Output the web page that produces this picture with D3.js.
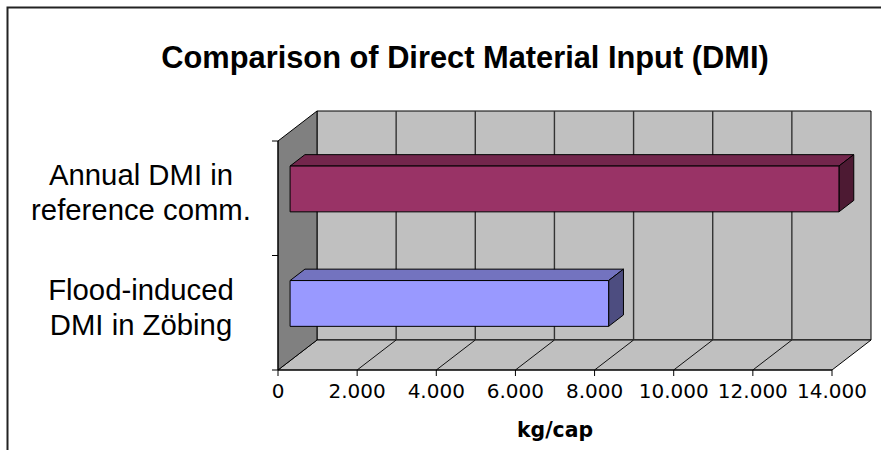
<!DOCTYPE html>
<html>
<head>
<meta charset="utf-8">
<script src="https://cdn.jsdelivr.net/npm/d3@7"></script>
<style>
  body { margin: 0; background: #fff; }
  svg { display: block; }
</style>
</head>
<body>
<script>
// chart data
const categories = [
  ['Annual DMI in', 'reference comm.'],
  ['Flood-induced', 'DMI in Zöbing']
]
const values = [13870, 8050]
const barColors = ['#993366', '#9999ff']
const xTicks = [0, 2000, 4000, 6000, 8000, 10000, 12000, 14000]
const title = 'Comparison of Direct Material Input (DMI)'
const xLabel = 'kg/cap'

const width = 881
const height = 450
const front = { left: 278, right: 832, top: 141, bottom: 370 }
const depth = { dx: 39, dy: -30 }
const barDepth = [0.31, 0.69]

const svg = d3.select('body').append('svg')
  .attr('width', width)
  .attr('height', height)

// outer frame (only left + top are visible)
svg.append('path')
  .attr('d', `M7.5,${height} V7.5 H${width}`)
  .attr('fill', 'none')
  .attr('stroke', '#222')
  .attr('stroke-width', 2)

svg.append('text')
  .attr('x', 465)
  .attr('y', 68)
  .attr('text-anchor', 'middle')
  .style('font-family', '"Liberation Sans", Arial, sans-serif')
  .style('font-weight', 'bold')
  .style('font-size', '30.8px')
  .text(title)

const x = d3.scaleLinear()
  .domain([0, d3.max(xTicks)])
  .range([front.left, front.right])

const y = d3.scaleBand()
  .domain(d3.range(categories.length))
  .range([front.top, front.bottom])

// project a point of the front plane back by fraction d of the depth
const proj = (px, py, d) => [px + depth.dx * d, py + depth.dy * d]
const poly = pts => 'M' + pts.map(p => p.join(',')).join('L') + 'Z'

const x0 = x(0)
const xMax = x(d3.max(xTicks))
const g = svg.append('g')

// back wall
g.append('path')
  .attr('d', poly([proj(x0, front.top, 1), proj(xMax, front.top, 1), proj(xMax, front.bottom, 1), proj(x0, front.bottom, 1)]))
  .attr('fill', '#c0c0c0')
  .attr('stroke', '#000')

// floor
g.append('path')
  .attr('d', poly([proj(x0, front.bottom, 0), proj(x0, front.bottom, 1), proj(xMax, front.bottom, 1), proj(xMax, front.bottom, 0)]))
  .attr('fill', '#c0c0c0')
  .attr('stroke', '#000')

// side wall
g.append('path')
  .attr('d', poly([proj(x0, front.top, 0), proj(x0, front.top, 1), proj(x0, front.bottom, 1), proj(x0, front.bottom, 0)]))
  .attr('fill', '#808080')
  .attr('stroke', '#000')

// gridlines on back wall and floor
const inner = xTicks.filter(t => t > 0 && t < d3.max(xTicks))
g.selectAll('.grid-back').data(inner)
  .enter().append('line')
  .attr('class', 'grid-back')
  .attr('x1', d => proj(x(d), front.top, 1)[0])
  .attr('y1', d => proj(x(d), front.top, 1)[1])
  .attr('x2', d => proj(x(d), front.bottom, 1)[0])
  .attr('y2', d => proj(x(d), front.bottom, 1)[1])
  .attr('stroke', '#333')
  .attr('stroke-width', 1.4)
g.selectAll('.grid-floor').data(inner)
  .enter().append('line')
  .attr('class', 'grid-floor')
  .attr('x1', d => proj(x(d), front.bottom, 1)[0])
  .attr('y1', d => proj(x(d), front.bottom, 1)[1])
  .attr('x2', d => x(d))
  .attr('y2', front.bottom)
  .attr('stroke', '#111')
  .attr('stroke-width', 1)

// axis lines
g.append('line')
  .attr('x1', x0).attr('x2', xMax)
  .attr('y1', front.bottom).attr('y2', front.bottom)
  .attr('stroke', '#000')
g.append('line')
  .attr('x1', x0).attr('x2', x0)
  .attr('y1', front.top).attr('y2', front.bottom)
  .attr('stroke', '#000')

// y ticks at band edges
const yEdges = y.domain().map(i => y(i)).concat([front.bottom])
g.selectAll('.ytick').data(yEdges)
  .enter().append('line')
  .attr('x1', x0 - 6).attr('x2', x0)
  .attr('y1', d => d).attr('y2', d => d)
  .attr('stroke', '#000')

// x ticks + labels
const fmt = d3.formatLocale({ decimal: ',', thousands: '.', grouping: [3], currency: ['', ''] }).format(',')
g.selectAll('.xtick').data(xTicks)
  .enter().append('line')
  .attr('x1', d => x(d)).attr('x2', d => x(d))
  .attr('y1', front.bottom).attr('y2', front.bottom + 6)
  .attr('stroke', '#000')
g.selectAll('.xlabel').data(xTicks)
  .enter().append('text')
  .attr('x', d => x(d))
  .attr('y', 398)
  .attr('text-anchor', 'middle')
  .style('font-family', '"DejaVu Sans", Verdana, sans-serif')
  .style('font-size', '20px')
  .text(d => fmt(d))

svg.append('text')
  .attr('x', (x0 + xMax) / 2)
  .attr('y', 437)
  .attr('text-anchor', 'middle')
  .style('font-family', '"DejaVu Sans", Verdana, sans-serif')
  .style('font-weight', 'bold')
  .style('font-size', '20.4px')
  .text(xLabel)

// category labels
categories.forEach((lines, i) => {
  const yc = y(i) + y.bandwidth() / 2
  const t = svg.append('text')
    .attr('text-anchor', 'middle')
    .style('font-family', '"Liberation Sans", Arial, sans-serif')
    .style('font-size', '29.3px')
  lines.forEach((line, j) => {
    t.append('tspan')
      .attr('x', 141)
      .attr('y', yc - 13 + j * 35)
      .text(line)
  })
})

// 3d bars: top face at 75%, side face at 50% of the base colour
const barH = y.bandwidth() * 0.4
values.forEach((v, i) => {
  const yc = y(i) + y.bandwidth() / 2
  const top = yc - barH / 2
  const bot = yc + barH / 2
  const xv = x(v)
  const [d0, d1] = barDepth
  const base = d3.color(barColors[i])
  const bar = g.append('g')
  bar.append('path')
    .attr('d', poly([proj(x0, top, d0), proj(x0, top, d1), proj(xv, top, d1), proj(xv, top, d0)]))
    .attr('fill', base.darker(0.81))
    .attr('stroke', '#000')
  bar.append('path')
    .attr('d', poly([proj(xv, top, d0), proj(xv, top, d1), proj(xv, bot, d1), proj(xv, bot, d0)]))
    .attr('fill', base.darker(1.94))
    .attr('stroke', '#000')
  bar.append('path')
    .attr('d', poly([proj(x0, top, d0), proj(xv, top, d0), proj(xv, bot, d0), proj(x0, bot, d0)]))
    .attr('fill', base)
    .attr('stroke', '#000')
})
</script>
</body>
</html>
